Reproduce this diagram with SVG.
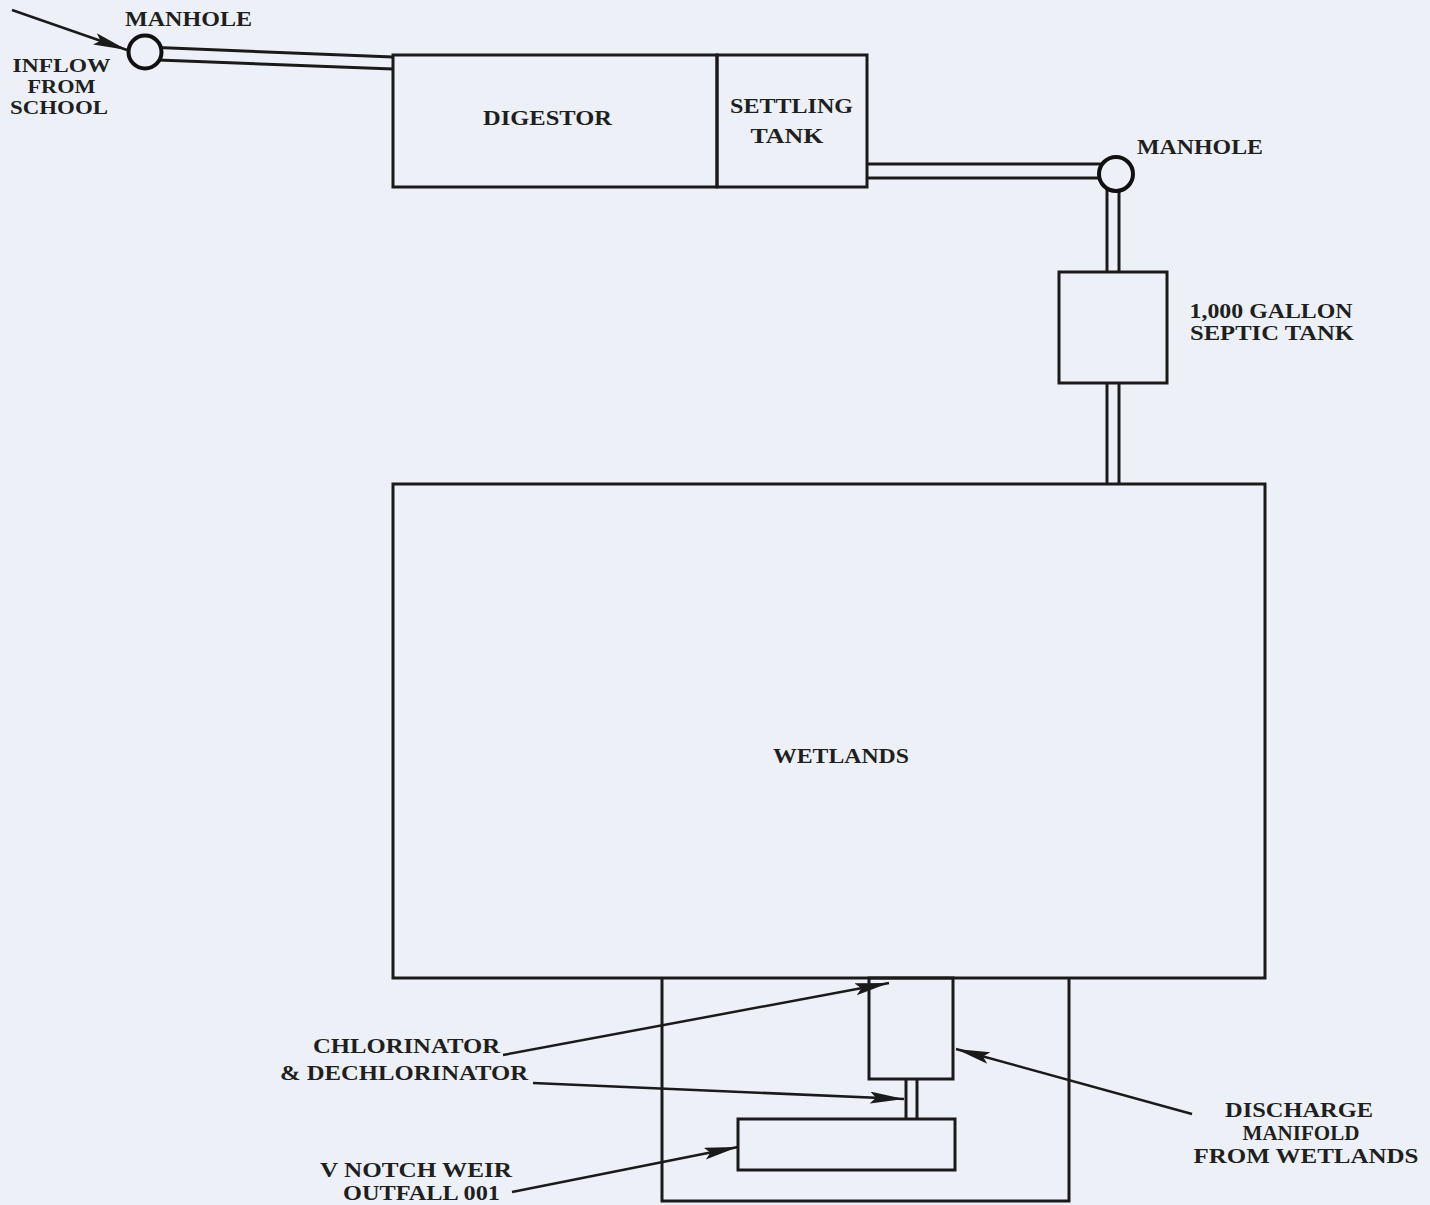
<svg xmlns="http://www.w3.org/2000/svg" width="1430" height="1205" viewBox="0 0 1430 1205">
  <style>
    .bg { fill: #edf1f7; }
    .box { fill: none; stroke: #1a1a1a; stroke-width: 3; }
    .pipe { fill: none; stroke: #1a1a1a; stroke-width: 3; }
    .mh { fill: #edf1f7; stroke: #111; stroke-width: 4; }
    .arrow { fill: none; stroke: #1a1a1a; stroke-width: 2.5; marker-end: url(#ah); }
    .lbl { font-family: "Liberation Serif", "Times New Roman", serif; font-weight: bold; font-size: 21px; fill: #1f1f1f; text-anchor: middle; }
    .sm { font-size: 18.5px; }
  </style>
  <defs>
    <marker id="ah" markerUnits="userSpaceOnUse" markerWidth="36" markerHeight="14" refX="34" refY="6" orient="auto">
      <path d="M0,0 L34,6 L0,12 L6,6 z" fill="#1a1a1a"/>
    </marker>
  </defs>
  <rect class="bg" x="0" y="0" width="1430" height="1205"/>

  <g id="connectors">
    <line class="pipe" x1="158" y1="47.5" x2="393" y2="57"/>
    <line class="pipe" x1="158" y1="60" x2="393" y2="69"/>
    <line class="pipe" x1="867" y1="164" x2="1104" y2="164"/>
    <line class="pipe" x1="867" y1="178" x2="1104" y2="178"/>
    <line class="pipe" x1="1107" y1="184" x2="1107" y2="272"/>
    <line class="pipe" x1="1119" y1="184" x2="1119" y2="272"/>
    <line class="pipe" x1="1107" y1="383" x2="1107" y2="484"/>
    <line class="pipe" x1="1119" y1="383" x2="1119" y2="484"/>
    <line class="pipe" x1="906" y1="1079" x2="906" y2="1119"/>
    <line class="pipe" x1="917" y1="1079" x2="917" y2="1119"/>
    <line class="arrow" x1="12" y1="10" x2="127" y2="50"/>
    <line class="arrow" x1="503" y1="1055" x2="889" y2="983"/>
    <line class="arrow" x1="533" y1="1083" x2="904" y2="1099"/>
    <line class="arrow" x1="512" y1="1192" x2="738" y2="1147"/>
    <line class="arrow" x1="1192" y1="1114" x2="956" y2="1049"/>
  </g>

  <g id="manhole1">
    <circle class="mh" cx="145" cy="52" r="16.5"/>
    <text class="lbl" x="188.5" y="26" textLength="127" lengthAdjust="spacingAndGlyphs">MANHOLE</text>
  </g>
  <g id="inflow">
    <text class="lbl sm" x="61.5" y="72" textLength="98" lengthAdjust="spacingAndGlyphs">INFLOW</text>
    <text class="lbl sm" x="61.5" y="93" textLength="68" lengthAdjust="spacingAndGlyphs">FROM</text>
    <text class="lbl sm" x="59" y="114" textLength="98" lengthAdjust="spacingAndGlyphs">SCHOOL</text>
  </g>
  <g id="digestor">
    <rect class="box" x="393" y="55" width="324" height="132"/>
    <text class="lbl" x="547.5" y="125" textLength="129" lengthAdjust="spacingAndGlyphs">DIGESTOR</text>
  </g>
  <g id="settling-tank">
    <rect class="box" x="717" y="55" width="150" height="132"/>
    <text class="lbl" x="791.5" y="113" textLength="123" lengthAdjust="spacingAndGlyphs">SETTLING</text>
    <text class="lbl" x="787" y="143" textLength="73" lengthAdjust="spacingAndGlyphs">TANK</text>
  </g>
  <g id="manhole2">
    <circle class="mh" cx="1116" cy="174" r="17"/>
    <text class="lbl" x="1200" y="154" textLength="126" lengthAdjust="spacingAndGlyphs">MANHOLE</text>
  </g>
  <g id="septic-tank">
    <rect class="box" x="1059" y="272" width="108" height="111"/>
    <text class="lbl" x="1271" y="318" textLength="163" lengthAdjust="spacingAndGlyphs">1,000 GALLON</text>
    <text class="lbl" x="1272" y="340" textLength="164" lengthAdjust="spacingAndGlyphs">SEPTIC TANK</text>
  </g>
  <g id="wetlands">
    <rect class="box" x="393" y="484" width="872" height="494"/>
    <text class="lbl" x="841" y="763" textLength="136" lengthAdjust="spacingAndGlyphs">WETLANDS</text>
  </g>
  <g id="discharge-enclosure">
    <path class="box" d="M662,978 L662,1201 L1069,1201 L1069,978"/>
  </g>
  <g id="chlorinator">
    <rect class="box" x="869" y="978" width="84" height="101"/>
    <text class="lbl" x="406.5" y="1053" textLength="187" lengthAdjust="spacingAndGlyphs">CHLORINATOR</text>
    <text class="lbl" x="404" y="1080" textLength="248" lengthAdjust="spacingAndGlyphs">&amp; DECHLORINATOR</text>
  </g>
  <g id="weir">
    <rect class="box" x="738" y="1119" width="217" height="51"/>
    <text class="lbl" x="416" y="1177" textLength="192" lengthAdjust="spacingAndGlyphs">V NOTCH WEIR</text>
    <text class="lbl" x="421.5" y="1200" textLength="157" lengthAdjust="spacingAndGlyphs">OUTFALL 001</text>
  </g>
  <g id="discharge-manifold">
    <text class="lbl" x="1299" y="1117" textLength="148" lengthAdjust="spacingAndGlyphs">DISCHARGE</text>
    <text class="lbl" x="1301" y="1140" textLength="117" lengthAdjust="spacingAndGlyphs">MANIFOLD</text>
    <text class="lbl" x="1306" y="1163" textLength="225" lengthAdjust="spacingAndGlyphs">FROM WETLANDS</text>
  </g>
</svg>
